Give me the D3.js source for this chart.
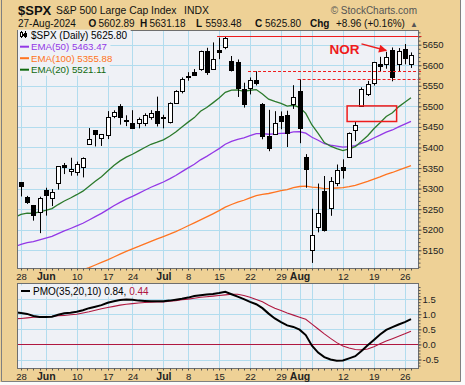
<!DOCTYPE html>
<html>
<head>
<meta charset="utf-8">
<script src="https://cdn.jsdelivr.net/npm/d3@7"></script>
<style>
  html, body { margin: 0; padding: 0; background: #fbfbfb; }
  svg { display: block; }
  text { font-family: "Liberation Sans", Arial, sans-serif; }
</style>
</head>
<body>
<svg width="465" height="385"></svg>
<script>
// daily bars, $SPX, May 24 - Aug 27 2024 (first one sits just off the left edge)
const dates = [
  "2024-05-24","2024-05-28","2024-05-29","2024-05-30","2024-05-31",
  "2024-06-03","2024-06-04","2024-06-05","2024-06-06","2024-06-07",
  "2024-06-10","2024-06-11","2024-06-12","2024-06-13","2024-06-14",
  "2024-06-17","2024-06-18","2024-06-20","2024-06-21",
  "2024-06-24","2024-06-25","2024-06-26","2024-06-27","2024-06-28",
  "2024-07-01","2024-07-02","2024-07-03","2024-07-05",
  "2024-07-08","2024-07-09","2024-07-10","2024-07-11","2024-07-12",
  "2024-07-15","2024-07-16","2024-07-17","2024-07-18","2024-07-19",
  "2024-07-22","2024-07-23","2024-07-24","2024-07-25","2024-07-26",
  "2024-07-29","2024-07-30","2024-07-31","2024-08-01","2024-08-02",
  "2024-08-05","2024-08-06","2024-08-07","2024-08-08","2024-08-09",
  "2024-08-12","2024-08-13","2024-08-14","2024-08-15","2024-08-16",
  "2024-08-19","2024-08-20","2024-08-21","2024-08-22","2024-08-23",
  "2024-08-26","2024-08-27"
];
const open = [
  5281.45, 5315.91, 5278.73, 5259.77, 5243.21,
  5297.15, 5278.24, 5314.48, 5357.80, 5343.81,
  5341.22, 5353.00, 5409.13, 5441.93, 5424.08,
  5431.11, 5476.15, 5499.99, 5466.77,
  5459.58, 5460.73, 5460.71, 5473.59, 5488.48,
  5471.08, 5461.84, 5507.44, 5537.91,
  5572.75, 5584.24, 5591.26, 5635.21, 5590.76,
  5638.16, 5644.09, 5610.07, 5608.56, 5543.37,
  5544.66, 5565.30, 5505.84, 5428.70, 5433.67,
  5476.55, 5478.73, 5505.59, 5537.84, 5376.63,
  5151.14, 5206.42, 5293.13, 5252.57, 5314.56,
  5351.88, 5376.98, 5442.80, 5501.13, 5530.50,
  5557.23, 5602.88, 5603.09, 5637.77, 5602.59,
  5639.66, 5602.89
];
const high = [
  5311.65, 5315.91, 5282.27, 5260.21, 5280.33,
  5302.11, 5298.80, 5354.16, 5362.35, 5375.08,
  5365.79, 5375.95, 5447.25, 5441.93, 5432.39,
  5488.50, 5490.38, 5505.53, 5478.31,
  5490.66, 5472.88, 5483.14, 5490.81, 5523.64,
  5479.55, 5509.69, 5539.27, 5570.33,
  5583.11, 5590.75, 5635.39, 5642.45, 5655.56,
  5666.94, 5669.67, 5622.49, 5614.05, 5557.50,
  5570.36, 5585.34, 5508.04, 5491.59, 5488.32,
  5487.74, 5489.46, 5551.51, 5566.16, 5383.89,
  5250.89, 5312.34, 5330.64, 5328.03, 5358.58,
  5371.20, 5436.50, 5463.22, 5546.23, 5561.98,
  5608.30, 5620.51, 5632.68, 5643.22, 5641.82,
  5651.62, 5631.18
];
const low = [
  5278.39, 5280.89, 5262.70, 5222.10, 5191.68,
  5234.32, 5257.63, 5297.64, 5335.36, 5331.33,
  5331.52, 5327.25, 5409.13, 5402.51, 5403.75,
  5420.40, 5471.32, 5455.56, 5452.03,
  5447.59, 5446.56, 5451.87, 5467.54, 5451.12,
  5446.53, 5458.43, 5507.42, 5531.63,
  5562.51, 5574.57, 5586.44, 5576.53, 5590.44,
  5614.75, 5639.02, 5584.81, 5522.81, 5497.04,
  5529.04, 5550.90, 5419.98, 5390.95, 5430.70,
  5444.44, 5401.14, 5493.75, 5410.42, 5302.03,
  5119.26, 5193.56, 5195.54, 5233.85, 5306.02,
  5324.37, 5376.98, 5415.53, 5501.13, 5525.21,
  5550.74, 5585.50, 5591.57, 5560.95, 5585.16,
  5602.34, 5593.48
];
const close = [
  5304.72, 5306.04, 5266.95, 5235.48, 5277.51,
  5283.40, 5291.34, 5354.03, 5352.96, 5346.99,
  5360.79, 5375.32, 5421.03, 5433.74, 5431.60,
  5473.23, 5487.03, 5473.17, 5464.62,
  5447.87, 5469.30, 5477.90, 5482.87, 5460.48,
  5475.09, 5509.01, 5537.02, 5567.19,
  5572.85, 5576.98, 5633.91, 5584.54, 5615.35,
  5631.22, 5667.20, 5588.27, 5544.59, 5505.00,
  5564.41, 5555.74, 5427.13, 5399.22, 5459.10,
  5463.54, 5436.44, 5522.30, 5446.68, 5346.56,
  5186.33, 5240.03, 5199.50, 5319.31, 5344.16,
  5344.39, 5434.43, 5455.21, 5543.22, 5554.25,
  5608.25, 5597.12, 5620.85, 5570.64, 5634.61,
  5616.84, 5625.80
];
const ema20 = [
  5230.3, 5237.5, 5240.3, 5239.8, 5243.4,
  5247.2, 5251.4, 5261.2, 5269.9, 5277.2,
  5285.2, 5293.8, 5305.9, 5318.1, 5328.9,
  5342.6, 5356.3, 5367.4, 5376.7,
  5383.5, 5391.7, 5399.9, 5407.8, 5412.8,
  5418.7, 5427.3, 5437.7, 5450.0,
  5461.7, 5472.7, 5488.0, 5497.2, 5508.5,
  5520.2, 5534.2, 5539.4, 5539.9, 5536.6,
  5539.2, 5540.8, 5530.0, 5517.5, 5511.9,
  5507.3, 5500.6, 5502.7, 5497.4, 5483.0,
  5454.7, 5434.3, 5411.9, 5403.1, 5397.5,
  5392.4, 5396.4, 5402.0, 5415.4, 5428.6,
  5445.7, 5460.1, 5475.4, 5484.5, 5498.8,
  5510.0, 5521.11
];
const ema50 = [
  5158.8, 5164.6, 5168.6, 5171.2, 5175.4,
  5179.6, 5184.0, 5190.7, 5197.1, 5203.0,
  5209.2, 5215.7, 5223.7, 5231.9, 5239.7,
  5248.9, 5258.2, 5266.6, 5274.4,
  5281.2, 5288.6, 5296.0, 5303.3, 5309.5,
  5316.0, 5323.6, 5332.0, 5341.2,
  5350.3, 5359.2, 5370.0, 5378.4, 5387.7,
  5397.2, 5407.8, 5414.9, 5420.0, 5423.3,
  5428.8, 5433.8, 5433.5, 5432.2, 5433.3,
  5434.5, 5434.6, 5438.0, 5438.3, 5434.7,
  5425.0, 5417.7, 5409.2, 5405.7, 5403.3,
  5401.0, 5402.3, 5404.4, 5409.8, 5415.5,
  5423.1, 5429.9, 5437.4, 5442.6, 5450.1,
  5456.6, 5463.47
];
const ema100 = [
  5052.0, 5057.0, 5061.9, 5065.9, 5069.3,
  5073.4, 5077.6, 5081.8, 5087.2, 5092.4,
  5097.4, 5102.6, 5108.0, 5114.2, 5120.5,
  5126.7, 5133.6, 5140.6, 5147.2,
  5153.5, 5159.3, 5165.5, 5171.7, 5177.9,
  5183.5, 5189.3, 5195.6, 5202.4,
  5209.6, 5216.8, 5223.9, 5231.1, 5238.7,
  5246.5, 5254.8, 5261.4, 5267.0, 5271.7,
  5277.5, 5283.0, 5285.9, 5288.1, 5291.5,
  5294.9, 5297.7, 5302.2, 5305.1, 5305.9,
  5303.5, 5302.2, 5300.2, 5300.6, 5301.5,
  5302.4, 5305.0, 5308.0, 5312.7, 5317.5,
  5323.3, 5328.7, 5334.5, 5339.2, 5345.0,
  5350.4, 5355.88
];
const pmo = [
  1.07, 1.04, 1.01, 0.94, 0.91,
  0.91, 0.92, 0.98, 1.03, 1.05,
  1.08, 1.13, 1.20, 1.25, 1.30,
  1.38, 1.43, 1.47, 1.49,
  1.48, 1.45, 1.44, 1.43, 1.43,
  1.43, 1.45, 1.48, 1.51,
  1.55, 1.60, 1.63, 1.65, 1.67,
  1.70, 1.74, 1.66, 1.58, 1.50,
  1.41, 1.33, 1.20, 1.02, 0.86,
  0.74, 0.63, 0.58, 0.49, 0.31,
  -0.04, -0.27, -0.42, -0.50, -0.54,
  -0.53, -0.46, -0.39, -0.22, -0.03,
  0.15, 0.33, 0.48, 0.57, 0.66,
  0.74, 0.84
];
const pmoSignal = [
  0.85, 0.86, 0.88, 0.90, 0.91,
  0.92, 0.93, 0.95, 0.96, 0.98,
  1.00, 1.04, 1.08, 1.13, 1.18,
  1.22, 1.26, 1.30, 1.33,
  1.35, 1.37, 1.39, 1.40, 1.41,
  1.41, 1.43, 1.45, 1.48,
  1.50, 1.53, 1.56, 1.58, 1.60,
  1.62, 1.64, 1.66, 1.66, 1.62,
  1.56, 1.49, 1.41, 1.30, 1.20,
  1.12, 1.04, 0.97, 0.90, 0.83,
  0.67, 0.51, 0.35, 0.20, 0.06,
  -0.05, -0.12, -0.17, -0.18, -0.15,
  -0.08, 0.02, 0.11, 0.19, 0.27,
  0.35, 0.44
];

// axis labels and weekly / month grid
const gridDates = ["2024-05-28","2024-06-03","2024-06-10","2024-06-17","2024-06-24","2024-07-01","2024-07-08",
  "2024-07-15","2024-07-22","2024-07-29","2024-08-01","2024-08-05","2024-08-12","2024-08-19","2024-08-26"];
const labelDates = ["2024-05-28","2024-06-03","2024-06-10","2024-06-17","2024-06-24","2024-07-01","2024-07-08",
  "2024-07-15","2024-07-22","2024-07-29","2024-08-01","2024-08-12","2024-08-19","2024-08-26"];
const labelText = ["28","Jun","10","17","24","Jul","8","15","22","29","Aug","12","19","26"];
const monthNames = ["Jun","Jul","Aug"];
const priceTicks = [5150, 5200, 5250, 5300, 5350, 5400, 5450, 5500, 5550, 5600, 5650];
const pmoTicks = [-0.5, 0, 0.5, 1, 1.5];

// hand-drawn notes on the chart
const levelLines = [
  {from: "2024-07-15", price: 5672, dashed: false},
  {from: "2024-07-22", price: 5585.34, dashed: true},
  {from: "2024-08-01", price: 5566.16, dashed: true}
];
const gapBox = {from: "2024-08-13", to: "2024-08-23", low: 5463.22, high: 5501.13};
const note = {text: "NOR", date: "2024-08-08", price: 5627};
const noteArrow = {from: "2024-08-15", fromPrice: 5652, to: "2024-08-21", toPrice: 5636};

const tan = "#eed196";
const panelBg = "#eff1f6";
const gridColor = "#b2dcee";
const red = "#ee1c1c";
const purple = "#9338e6";
const orange = "#ff7420";
const green = "#2c7a2c";
const crimson = "#b0173f";

const svg = d3.select("svg");
const left = 17.5, right = 418.5;
const mainTop = 30.5, mainBottom = 268.5;
const pmoTop = 283.5, pmoBottom = 368.5;
const n = dates.length;

const x = d3.scalePoint().domain(dates).range([14.8, 411]);
const y = d3.scaleLinear().domain([5104.5, 5683.3]).range([269, 31]);
const yPmo = d3.scaleLinear().domain([-0.78, 2.0]).range([368, 284]);
const px = v => Math.round(v) + 0.5;

// background + frame
svg.append("rect").attr("x", 0).attr("y", 0).attr("width", 461).attr("height", 382).attr("fill", tan);
svg.append("path").attr("d", "M1.5,0V381.5H460.5V0").attr("fill", "none").attr("stroke", "#808080");

// panels
const defs = svg.append("defs");
[["clipMain", mainTop, mainBottom], ["clipPmo", pmoTop, pmoBottom]].forEach(([id, t, b]) => {
  svg.append("rect").attr("x", left).attr("y", t).attr("width", right - left).attr("height", b - t)
    .attr("fill", panelBg);
  defs.append("clipPath").attr("id", id).append("rect")
    .attr("x", left).attr("y", t).attr("width", right - left).attr("height", b - t);
});

// grid
const grid = svg.append("g").attr("stroke", gridColor).attr("stroke-width", 1);
[[mainTop, mainBottom], [pmoTop, pmoBottom]].forEach(([t, b]) => {
  grid.append("g").selectAll("line").data(gridDates).enter().append("line")
    .attr("x1", d => px(x(d))).attr("x2", d => px(x(d)))
    .attr("y1", t).attr("y2", b);
});
grid.append("g").selectAll("line").data(priceTicks).enter().append("line")
  .attr("x1", left).attr("x2", right).attr("y1", d => px(y(d))).attr("y2", d => px(y(d)));
grid.append("g").selectAll("line").data(pmoTicks.filter(d => d !== 0)).enter().append("line")
  .attr("x1", left).attr("x2", right).attr("y1", d => px(yPmo(d))).attr("y2", d => px(yPmo(d)));

// moving averages
const plot = svg.append("g").attr("clip-path", "url(#clipMain)");
const idx = d3.range(n);
[[ema100, orange], [ema50, purple], [ema20, green]].forEach(([vals, color]) => {
  plot.append("path")
    .datum(idx)
    .attr("fill", "none").attr("stroke", color).attr("stroke-width", 1.3)
    .attr("d", d3.line().x(i => x(dates[i])).y(i => y(vals[i])));
});

// candles
const bars = idx.map(i => ({date: dates[i], o: open[i], h: high[i], l: low[i], c: close[i]}));
const candle = plot.append("g").selectAll("g").data(bars).enter().append("g");
candle.append("line")
  .attr("x1", d => px(x(d.date))).attr("x2", d => px(x(d.date)))
  .attr("y1", d => y(d.h)).attr("y2", d => y(d.l))
  .attr("stroke", "#000");
candle.append("rect")
  .attr("x", d => px(x(d.date)) - 2)
  .attr("width", 4)
  .attr("y", d => px(y(Math.max(d.o, d.c))))
  .attr("height", d => Math.max(1, Math.round(y(Math.min(d.o, d.c))) - Math.round(y(Math.max(d.o, d.c)))))
  .attr("fill", d => d.c > d.o ? "#fff" : "#000")
  .attr("stroke", "#000");

// notes
svg.append("g").selectAll("line").data(levelLines).enter().append("line")
  .attr("x1", d => x(d.from) - 2).attr("x2", right + 3)
  .attr("y1", d => px(y(d.price))).attr("y2", d => px(y(d.price)))
  .attr("stroke", red).attr("stroke-width", 1)
  .attr("stroke-dasharray", d => d.dashed ? "3,2" : null);

svg.append("rect")
  .attr("x", x(gapBox.from) - 2).attr("width", x(gapBox.to) - x(gapBox.from))
  .attr("y", y(gapBox.high)).attr("height", y(gapBox.low) - y(gapBox.high))
  .attr("fill", "none").attr("stroke", red).attr("stroke-width", 1.5);

svg.append("text")
  .attr("x", x(note.date) - 1).attr("y", y(note.price))
  .attr("fill", red).attr("font-size", 13.5).attr("font-weight", "bold")
  .text(note.text);

defs.append("marker").attr("id", "head")
  .attr("viewBox", "0 0 10 10").attr("refX", 9).attr("refY", 5)
  .attr("markerWidth", 9).attr("markerHeight", 8).attr("orient", "auto")
  .attr("markerUnits", "userSpaceOnUse")
  .append("path").attr("d", "M0,0L10,5L0,10Z").attr("fill", red);
svg.append("line")
  .attr("x1", x(noteArrow.from)).attr("y1", y(noteArrow.fromPrice))
  .attr("x2", x(noteArrow.to)).attr("y2", y(noteArrow.toPrice))
  .attr("stroke", red).attr("stroke-width", 1.5).attr("marker-end", "url(#head)");

// PMO panel
const lower = svg.append("g").attr("clip-path", "url(#clipPmo)");
lower.append("line").attr("x1", left).attr("x2", right)
  .attr("y1", px(yPmo(0))).attr("y2", px(yPmo(0))).attr("stroke", crimson);
lower.append("path").datum(idx)
  .attr("fill", "none").attr("stroke", crimson).attr("stroke-width", 1.1)
  .attr("d", d3.line().x(i => x(dates[i])).y(i => yPmo(pmoSignal[i])));
lower.append("path").datum(idx)
  .attr("fill", "none").attr("stroke", "#000").attr("stroke-width", 2)
  .attr("d", d3.line().x(i => x(dates[i])).y(i => yPmo(pmo[i])));

// panel borders
[[mainTop, mainBottom], [pmoTop, pmoBottom]].forEach(([t, b]) => {
  svg.append("rect").attr("x", left).attr("y", t).attr("width", right - left).attr("height", b - t)
    .attr("fill", "none").attr("stroke", "#6e6e6e");
});

// axes
function styleAxis(g) {
  g.select(".domain").remove();
  g.attr("font-family", "Liberation Sans, Arial, sans-serif");
  g.selectAll("line").attr("stroke", "#555");
  g.selectAll("text").attr("fill", "#222");
}
svg.append("g").attr("transform", `translate(${right},0)`)
  .call(d3.axisRight(y).tickValues(d3.range(5110, 5681, 10)).tickSize(2).tickFormat(""))
  .call(styleAxis);
svg.append("g").attr("transform", `translate(${right},0)`)
  .call(d3.axisRight(y).tickValues(priceTicks).tickSize(3).tickPadding(1).tickFormat(d3.format("d")))
  .call(styleAxis).attr("font-size", 9.5);
svg.append("g").attr("transform", `translate(${right},0)`)
  .call(d3.axisRight(yPmo).tickValues(d3.range(-0.7, 1.95, 0.1)).tickSize(2).tickFormat(""))
  .call(styleAxis);
svg.append("g").attr("transform", `translate(${right},0)`)
  .call(d3.axisRight(yPmo).tickValues(pmoTicks).tickSize(3).tickPadding(1).tickFormat(d => d.toFixed(1)))
  .call(styleAxis).attr("font-size", 9.5);

[mainBottom, pmoBottom].forEach(b => {
  svg.append("g").attr("transform", `translate(0,${b})`)
    .call(d3.axisBottom(x).tickValues(dates.slice(1)).tickSize(2).tickFormat(""))
    .call(styleAxis)
    .selectAll(".tick").attr("transform", d => `translate(${px(x(d))},0)`);
  const ax = svg.append("g").attr("transform", `translate(0,${b})`)
    .call(d3.axisBottom(x).tickValues(labelDates).tickSize(0).tickPadding(4.5).tickFormat((d, i) => labelText[i]))
    .call(styleAxis).attr("font-size", 9.5);
  ax.selectAll("text").filter(function() { return monthNames.includes(this.textContent); })
    .attr("font-weight", "bold").attr("font-size", 10.5);
});

// legend, main panel
const last = n - 1;
const legendRows = [
  {label: `$SPX (Daily) ${close[last].toFixed(2)}`, color: "#000", mono: true},
  {label: `EMA(50) ${ema50[last].toFixed(2)}`, color: purple},
  {label: `EMA(100) ${ema100[last].toFixed(2)}`, color: orange},
  {label: `EMA(20) ${ema20[last].toFixed(2)}`, color: "#0f6a0f"}
];
const legend = svg.append("g");
legendRows.forEach((r, i) => {
  const base = 38.7 + i * 11.5;
  const bg = legend.append("rect").attr("x", left + 0.5).attr("y", base - 9).attr("height", 11.5).attr("fill", panelBg);
  const t = legend.append("text").attr("x", 31).attr("y", base).attr("fill", r.color)
    .attr("font-size", r.mono ? 10 : 9.7)
    .attr("font-family", r.mono ? "DejaVu Sans Mono, monospace" : null)
    .text(r.label);
  bg.attr("width", 31 + t.node().getComputedTextLength() + 3 - left);
  if (i > 0) {
    legend.append("line").attr("x1", 20).attr("x2", 29).attr("y1", base - 3.5).attr("y2", base - 3.5)
      .attr("stroke", r.color).attr("stroke-width", 2);
  }
});
// little candlestick glyph in front of the price row
const icon = legend.append("g").attr("stroke", "#000").attr("stroke-width", 1);
icon.append("line").attr("x1", 21.5).attr("x2", 21.5).attr("y1", 31).attr("y2", 38);
icon.append("rect").attr("x", 20.5).attr("y", 32.5).attr("width", 2).attr("height", 4).attr("fill", "#fff");
icon.append("line").attr("x1", 25.5).attr("x2", 25.5).attr("y1", 31).attr("y2", 38);
icon.append("rect").attr("x", 24.5).attr("y", 33.5).attr("width", 2).attr("height", 3).attr("fill", "#000");
icon.append("line").attr("x1", 23.5).attr("x2", 23.5).attr("y1", 34).attr("y2", 36);

// legend, PMO panel
const pmoKey = svg.append("g");
const pmoBg = pmoKey.append("rect").attr("x", left + 0.5).attr("y", 285.5).attr("height", 11).attr("fill", panelBg);
pmoKey.append("line").attr("x1", 21).attr("x2", 30).attr("y1", 291).attr("y2", 291)
  .attr("stroke", "#000").attr("stroke-width", 2);
const pmoLegend = pmoKey.append("text").attr("x", 33).attr("y", 294.5)
  .attr("font-family", "DejaVu Sans Mono, monospace").attr("font-size", 10).attr("fill", "#000");
pmoLegend.append("tspan").text(`PMO(35,20,10) ${pmo[last].toFixed(2)}, `);
pmoLegend.append("tspan").attr("fill", crimson).text(pmoSignal[last].toFixed(2));
pmoBg.attr("width", 33 + pmoLegend.node().getComputedTextLength() + 3 - left);

// header
const head = svg.append("g").attr("fill", "#111");
head.append("text").attr("x", 18).attr("y", 15).attr("font-size", 13).attr("font-weight", "bold").text("$SPX");
head.append("text").attr("x", 56).attr("y", 14).attr("font-size", 10.4).text("S&P 500 Large Cap Index");
head.append("text").attr("x", 184).attr("y", 14).attr("font-size", 10.4).text("INDX");
head.append("text").attr("x", 417).attr("y", 14).attr("font-size", 10).attr("fill", "#555")
  .attr("text-anchor", "end").text("\u00a9 StockCharts.com");

const chg = close[last] - close[last - 1];
const pct = chg / close[last - 1] * 100;
const quote = [
  ["27-Aug-2024", false, 18],
  ["O", true, 88.5], [open[last].toFixed(2), false, 98.5],
  ["H", true, 140], [high[last].toFixed(2), false, 149.5],
  ["L", true, 196], [low[last].toFixed(2), false, 205.5],
  ["C", true, 255], [close[last].toFixed(2), false, 265],
  ["Chg", true, 310], [`+${chg.toFixed(2)} (+${pct.toFixed(2)}%)`, false, 336]
];
head.selectAll("text.quote").data(quote).enter().append("text").attr("class", "quote")
  .attr("x", d => d[2]).attr("y", 27).attr("font-size", 10)
  .attr("font-weight", d => d[1] ? "bold" : null)
  .text(d => d[0]);
head.append("text").attr("x", 410).attr("y", 27).attr("font-size", 8).attr("fill", "#555")
  .attr("font-family", "DejaVu Sans, sans-serif").text("\u25b2");
</script>
</body>
</html>
